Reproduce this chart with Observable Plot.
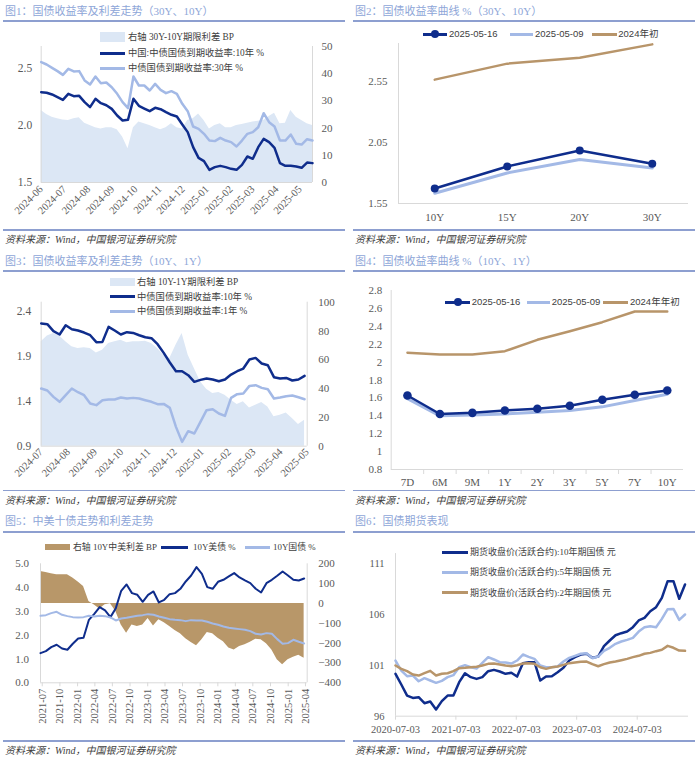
<!DOCTYPE html>
<html><head><meta charset="utf-8">
<script src="https://cdn.jsdelivr.net/npm/d3@7"></script>
<script src="https://cdn.jsdelivr.net/npm/@observablehq/plot@0.6"></script>
<style>
html,body{margin:0;padding:0;background:#fff;}
#root{position:relative;width:700px;height:763px;overflow:hidden;}
</style></head>
<body><div id="root"></div>
<script>
// ---------------- DATA ----------------
// Panel 1: weekly from 2024-06-01
const p1Start = "2024-06-01", p1Step = 7;
const p1Y10 = [2.292,2.287,2.272,2.249,2.225,2.278,2.257,2.260,2.205,2.161,2.234,2.196,2.178,2.146,2.088,2.044,2.050,2.234,2.173,2.149,2.126,2.155,2.143,2.117,2.094,2.079,2.009,1.942,1.810,1.716,1.687,1.611,1.635,1.646,1.635,1.620,1.611,1.655,1.728,1.708,1.810,1.883,1.854,1.804,1.670,1.646,1.646,1.640,1.629,1.675,1.670];
const p1Y30 = [2.556,2.535,2.506,2.477,2.444,2.497,2.474,2.477,2.395,2.360,2.430,2.371,2.377,2.336,2.278,2.205,2.152,2.430,2.351,2.351,2.307,2.365,2.313,2.284,2.301,2.278,2.190,2.126,1.991,1.971,1.927,1.868,1.863,1.892,1.868,1.854,1.816,1.868,1.927,1.942,1.985,2.108,2.029,1.991,1.868,1.868,1.921,1.839,1.833,1.880,1.868];
const p1Spread = [26.5,25.0,24.0,23.4,23.0,22.8,23.4,23.8,21.8,21.0,20.1,19.7,20.1,20.1,19.4,16.7,12.4,20.1,22.2,21.6,21.0,20.1,19.4,20.1,21.6,20.1,19.7,22.8,23.4,25.2,22.8,19.7,21.0,21.6,20.1,20.1,21.0,21.3,21.8,22.2,22.5,22.8,24.3,25.5,21.6,21.8,26.5,24.0,22.8,21.6,21.0];
const p1Domain = ["2024-06-01","2025-05-17"];
const p1XTicks = ["2024-06","2024-07","2024-08","2024-09","2024-10","2024-11","2024-12","2025-01","2025-02","2025-03","2025-04","2025-05"];
const p1LeftTicks = [1.5,2.0,2.5];
const p1RightTicks = [0,10,20,30,40,50];

// Panel 2: curve
const p2Cats = ["10Y","15Y","20Y","30Y"];
const p2A = [1.673,1.853,1.984,1.875];   // 2025-05-16
const p2B = [1.634,1.800,1.910,1.840];   // 2025-05-09
const p2C = [2.564,2.695,2.744,2.853];   // 2024年初
const p2YTicks = [1.55,2.05,2.55];

// Panel 3: weekly from 2024-07-01
const p3Start = "2024-07-01", p3Step = 7;
const p3Y10 = [2.263,2.256,2.178,2.141,2.244,2.200,2.185,2.163,2.133,2.056,2.059,2.226,2.185,2.141,2.167,2.159,2.133,2.111,2.100,2.033,1.937,1.830,1.733,1.733,1.689,1.615,1.637,1.652,1.641,1.622,1.641,1.696,1.733,1.763,1.863,1.881,1.819,1.800,1.667,1.652,1.659,1.630,1.641,1.681];
const p3Y1 = [1.541,1.519,1.448,1.393,1.467,1.541,1.500,1.467,1.374,1.356,1.411,1.419,1.419,1.441,1.430,1.437,1.430,1.411,1.393,1.367,1.370,1.326,1.115,0.948,1.067,1.041,1.170,1.300,1.311,1.263,1.237,1.437,1.478,1.485,1.570,1.578,1.548,1.533,1.430,1.441,1.456,1.463,1.444,1.422];
const p3Spread = [72.5,76.6,78.2,76.6,72.5,69.0,67.8,68.3,67.8,64.8,66.7,71.3,72.5,73.6,71.8,72.5,72.5,72.9,71.3,67.8,63.2,60.9,70.1,78.2,63.2,53.9,44.7,39.6,36.6,37.3,35.4,31.9,28.9,30.8,26.6,28.5,30.3,27.3,20.4,21.5,23.1,19.2,15.0,18.1];
const p3Domain = ["2024-07-01","2025-05-01"];
const p3XTicks = ["2024-07","2024-08","2024-09","2024-10","2024-11","2024-12","2025-01","2025-02","2025-03","2025-04","2025-05"];
const p3LeftTicks = [0.9,1.4,1.9,2.4];
const p3RightTicks = [0,20,40,60,80,100];

// Panel 4: curve
const p4Cats = ["7D","6M","9M","1Y","2Y","3Y","5Y","7Y","10Y"];
const p4A = [1.627,1.420,1.433,1.459,1.478,1.512,1.579,1.635,1.683]; // 2025-05-16
const p4B = [1.590,1.400,1.410,1.420,1.440,1.460,1.500,1.570,1.640]; // 2025-05-09
const p4C = [2.104,2.085,2.085,2.122,2.249,2.345,2.446,2.565,2.565]; // 2024年年初
const p4YTicks = [0.8,1.0,1.2,1.4,1.6,1.8,2.0,2.2,2.4,2.6,2.8];

// Panel 5: every 28 days from 2021-06-22
const p5Start = "2021-06-22", p5Step = 28;
const p5US = [1.246,1.331,1.499,1.597,1.443,1.387,1.639,1.863,1.891,2.647,2.899,3.179,3.039,2.759,3.137,3.866,4.132,3.768,3.697,3.403,3.697,3.838,3.375,3.487,3.725,3.768,3.950,4.258,4.510,4.860,4.580,4.020,3.950,4.244,4.328,4.468,4.608,4.426,4.300,4.188,3.950,3.796,4.188,4.328,4.496,4.678,4.510,4.328,4.300,4.384];
const p5CN = [2.815,2.843,2.927,2.983,2.857,2.801,2.759,2.745,2.759,2.815,2.787,2.815,2.801,2.745,2.619,2.703,2.731,2.773,2.815,2.843,2.885,2.857,2.787,2.731,2.675,2.647,2.633,2.591,2.633,2.619,2.619,2.563,2.493,2.437,2.367,2.311,2.283,2.255,2.227,2.171,2.059,2.031,2.087,2.059,1.835,1.639,1.667,1.807,1.723,1.653];
const p5Spread = [161,156,150,145,145,145,128,108,86,10,-8,-28,-7,-2,-40,-108,-150,-108,-116,-108,-76,-113,-82,-97,-116,-136,-153,-178,-197,-213,-183,-146,-153,-175,-193,-225,-234,-217,-208,-195,-180,-183,-203,-234,-284,-309,-284,-271,-261,-276];
const p5Domain = ["2021-06-22","2025-04-10"];
const p5XTicks = ["2021-07","2021-10","2022-01","2022-04","2022-07","2022-10","2023-01","2023-04","2023-07","2023-10","2024-01","2024-04","2024-07","2024-10","2025-01","2025-04"];
const p5LeftTicks = [0,1,2,3,4,5];
const p5RightTicks = [-400,-300,-200,-100,0,100,200];

// Panel 6: every 35 days from 2020-07-03
const p6Start = "2020-07-03", p6Step = 35;
const p6T10 = [100.17,99.12,98.03,97.80,97.87,97.28,97.44,96.66,97.48,98.03,98.03,99.35,100.23,99.84,99.67,99.84,100.43,100.56,100.40,100.17,100.27,99.90,101.22,101.31,101.31,99.51,99.90,99.94,100.33,100.76,101.48,101.81,102.07,102.14,101.74,101.87,102.89,103.45,103.97,104.17,104.33,104.76,105.42,105.68,106.33,106.73,107.65,109.29,109.29,107.55,108.96];
const p6T5 = [101.48,100.49,99.94,100.00,99.44,99.74,99.51,99.28,99.48,99.84,100.04,100.82,101.02,100.82,100.69,101.25,101.81,101.58,101.31,101.28,101.18,101.48,102.07,101.84,101.64,100.99,100.82,100.82,100.89,101.38,101.74,101.94,102.14,102.20,101.71,101.87,102.43,102.73,103.12,103.35,103.51,103.71,104.33,104.76,104.86,104.76,105.58,106.53,106.56,105.48,106.01];
const p6T2 = [100.99,100.66,100.43,100.10,100.00,100.23,100.46,100.00,100.17,100.23,100.43,100.72,100.76,100.82,100.86,100.99,101.15,101.18,101.09,100.99,100.92,101.02,101.18,101.22,101.15,100.82,100.66,100.82,100.89,101.05,101.22,101.28,101.35,101.38,101.12,100.92,101.12,101.28,101.38,101.51,101.64,101.81,101.94,102.14,102.23,102.40,102.53,102.92,102.73,102.46,102.43];
const p6Domain = ["2020-07-03","2025-05-09"];
const p6XTicks = ["2020-07-03","2021-07-03","2022-07-03","2023-07-03","2024-07-03"];
const p6YTicks = [96,101,106,111];

// Texts
const titles = ["图1：国债收益率及利差走势（30Y、10Y）","图2：国债收益率曲线 %（30Y、10Y）","图3：国债收益率及利差走势（10Y、1Y）","图4：国债收益率曲线 %（10Y、1Y）","图5：中美十债走势和利差走势","图6：国债期货表现"];
const sourceText = "资料来源：Wind，中国银河证券研究院";

// ---------------- STYLE / HELPERS ----------------
const SERIF = '"Liberation Serif","Noto Sans CJK SC",serif';
const SANS = '"Liberation Sans","Noto Sans CJK SC",sans-serif';
const C = {navy:"#0F2D8C", light:"#A3B9E6", area:"#DCE7F5", tan:"#B8956A", tanArea:"#B89769", grid:"#D9D9D9", text:"#595959", title:"#8EA6D8", rule:"#8D9FD0"};
const root = document.getElementById("root");
const D = s => new Date(s);
const dayAdd = (s, n) => new Date(+new Date(s) + n * 864e5);
function put(node, left, top){ node.style.position="absolute"; node.style.left=left+"px"; node.style.top=top+"px"; root.appendChild(node); return node; }
function div(css, text){ const e=document.createElement("div"); e.style.cssText=css; if(text!=null) e.textContent=text; return e; }
const sty = (fs) => ({fontFamily: SERIF, fontSize: fs+"px", color: C.text, background: "transparent", overflow: "visible"});

// frame texts
const panelX = [0,350,0,350,0,350];
const titleY = [11,11,261,261,521,521];
const ruleTopY = [21,21,271,271,531.5,531.5];
const ruleBotY = [230,230,490.5,490.5,741,741];
const srcY = [240,240,500.5,500.5,750.5,750.5];
titles.forEach((t,k)=>{
  const x = panelX[k];
  put(div(`font:11px ${SERIF};color:${C.title};white-space:nowrap;line-height:14px`, t), x+5, titleY[k]-7);
  put(div(`width:342px;height:2px;background:${C.rule}`), x+3, ruleTopY[k]-1);
  put(div(`width:342px;height:1.5px;background:${C.rule}`), x+3, ruleBotY[k]-0.75);
  put(div(`font:italic 10px ${SERIF};color:#404040;white-space:nowrap;line-height:14px`, sourceText), x+5, srcY[k]-7);
});

function legend(items, size, font){
  for(const it of items){
    const h = it.kind==="rect" ? (it.h||8) : 3;
    put(div(`width:${it.x2-it.x1}px;height:${h}px;background:${it.color}`), it.x1, it.y-h/2);
    if(it.dot) put(div(`width:8px;height:8px;border-radius:50%;background:${it.color}`), (it.x1+it.x2)/2-4, it.y-4);
    put(div(`font:${size}px ${font||SERIF};color:#404040;white-space:nowrap;line-height:14px`, it.text), it.tx, it.y-7);
  }
}

// ---------------- PANEL 1 ----------------
{
  const rows = p1Y10.map((v,i)=>({date: dayAdd(p1Start, i*p1Step), y10: v, y30: p1Y30[i], spread: p1Spread[i]}));
  const box = {width:350, height:200, marginLeft:40.7, marginRight:38, marginTop:16, marginBottom:48};
  const xs = {type:"utc", domain:p1Domain.map(D), label:null};
  put(Plot.plot({...box, style: sty(11), x: xs, y:{domain:[0,50], label:null}, marks:[
    Plot.areaY(rows, {x:"date", y:"spread", fill:C.area}),
    Plot.ruleX(p1Domain.map(D), {stroke:C.grid}),
    Plot.ruleY([0], {stroke:C.grid}),
    Plot.axisY(p1RightTicks, {anchor:"right", tickSize:0, tickPadding:9, label:null}),
    Plot.axisX(p1XTicks.map(D), {tickRotate:-45, tickSize:0, tickPadding:5, fontSize:10.5, tickFormat:d3.utcFormat("%Y-%m"), label:null})
  ]}), 0, 30);
  put(Plot.plot({...box, style: sty(11.5), x:{...xs, axis:null}, y:{domain:[1.5,2.693], label:null}, marks:[
    Plot.axisY(p1LeftTicks, {tickSize:0, tickPadding:9, tickFormat:d3.format(".1f"), label:null}),
    Plot.lineY(rows, {x:"date", y:"y10", stroke:C.navy, strokeWidth:2.5}),
    Plot.lineY(rows, {x:"date", y:"y30", stroke:C.light, strokeWidth:2.5})
  ]}), 0, 30);
  legend([
    {kind:"rect", x1:100, x2:125, y:37, h:10, color:C.area, tx:128, text:"右轴 30Y-10Y期限利差 BP"},
    {kind:"line", x1:100, x2:125, y:53, color:C.navy, tx:128, text:"中国:中债国债到期收益率:10年 %"},
    {kind:"line", x1:100, x2:125, y:68, color:C.light, tx:128, text:"中债国债到期收益率:30年 %"}
  ], 9.3);
}

// ---------------- PANEL 2 ----------------
{
  const rows = p2Cats.map((c,i)=>({i, a:p2A[i], b:p2B[i], c:p2C[i]}));
  put(Plot.plot({width:350, height:200, marginLeft:48, marginRight:12, marginTop:13, marginBottom:27, style: sty(11),
    x:{domain:[-0.5, p2Cats.length-0.5], label:null}, y:{domain:[1.55,2.86], label:null}, marks:[
    Plot.ruleX([-0.5], {stroke:C.grid}),
    Plot.ruleY([1.55], {stroke:C.grid}),
    Plot.axisY(p2YTicks, {tickSize:0, tickPadding:11, tickFormat:d3.format(".2f"), label:null}),
    Plot.axisX(p2Cats.map((_,i)=>i), {tickSize:0, tickPadding:10, tickFormat:i=>p2Cats[i], label:null}),
    Plot.lineY(rows, {x:"i", y:"c", stroke:C.tan, strokeWidth:2.5}),
    Plot.lineY(rows, {x:"i", y:"b", stroke:C.light, strokeWidth:3}),
    Plot.lineY(rows, {x:"i", y:"a", stroke:C.navy, strokeWidth:2.5}),
    Plot.dot(rows, {x:"i", y:"a", r:4, fill:C.navy})
  ]}), 350, 30);
  legend([
    {kind:"line", x1:422.7, x2:446.7, y:34, color:C.navy, dot:true, tx:449, text:"2025-05-16"},
    {kind:"line", x1:510, x2:533.3, y:34, color:C.light, tx:535, text:"2025-05-09"},
    {kind:"line", x1:591.7, x2:616.7, y:34, color:C.tan, tx:618.3, text:"2024年初"}
  ], 9.5, SANS);
}

// ---------------- PANEL 3 ----------------
{
  const rows = p3Y10.map((v,i)=>({date: dayAdd(p3Start, i*p3Step), y10: v, y1: p3Y1[i], spread: p3Spread[i]}));
  const box = {width:350, height:200, marginLeft:40.7, marginRight:43.3, marginTop:11.7, marginBottom:44.3};
  const xs = {type:"utc", domain:p3Domain.map(D), label:null};
  put(Plot.plot({...box, style: sty(11), x: xs, y:{domain:[0,100], label:null}, marks:[
    Plot.areaY(rows, {x:"date", y:"spread", fill:C.area}),
    Plot.ruleX(p3Domain.map(D), {stroke:C.grid}),
    Plot.ruleY([0], {stroke:C.grid}),
    Plot.axisY(p3RightTicks, {anchor:"right", tickSize:0, tickPadding:11, label:null}),
    Plot.axisX(p3XTicks.map(D), {tickRotate:-45, tickSize:0, tickPadding:4, fontSize:10.5, tickFormat:d3.utcFormat("%Y-%m"), label:null})
  ]}), 0, 290);
  put(Plot.plot({...box, style: sty(11.5), x:{...xs, axis:null}, y:{domain:[0.9,2.5], label:null}, marks:[
    Plot.axisY(p3LeftTicks, {tickSize:0, tickPadding:10, tickFormat:d3.format(".1f"), label:null}),
    Plot.lineY(rows, {x:"date", y:"y10", stroke:C.navy, strokeWidth:2.5}),
    Plot.lineY(rows, {x:"date", y:"y1", stroke:C.light, strokeWidth:2.5})
  ]}), 0, 290);
  legend([
    {kind:"rect", x1:110, x2:135, y:282, h:8, color:C.area, tx:137, text:"右轴 10Y-1Y期限利差 BP"},
    {kind:"line", x1:110, x2:135, y:296.7, color:C.navy, tx:137, text:"中债国债到期收益率:10年 %"},
    {kind:"line", x1:110, x2:135, y:311, color:C.light, tx:137, text:"中债国债到期收益率:1年 %"}
  ], 9.3);
}

// ---------------- PANEL 4 ----------------
{
  const rows = p4Cats.map((c,i)=>({i, a:p4A[i], b:p4B[i], c:p4C[i]}));
  const bounds = p4Cats.slice(1).map((_,i)=>i+0.5);
  put(Plot.plot({width:350, height:210, marginLeft:40.7, marginRight:17, marginTop:10, marginBottom:21, style: sty(11),
    x:{domain:[-0.5, p4Cats.length-0.5], label:null}, y:{domain:[0.8,2.8], label:null}, marks:[
    Plot.ruleX([-0.5], {stroke:C.grid}),
    Plot.ruleY([0.8], {stroke:C.grid}),
    Plot.axisY(p4YTicks, {tickSize:0, tickPadding:9, tickFormat:d3.format("~g"), label:null}),
    Plot.axisX(bounds, {tickSize:5, stroke:C.grid, tickFormat:()=>"", label:null}),
    Plot.axisX(p4Cats.map((_,i)=>i), {tickSize:0, tickPadding:9, tickFormat:i=>p4Cats[i], label:null}),
    Plot.lineY(rows, {x:"i", y:"c", stroke:C.tan, strokeWidth:2.5}),
    Plot.lineY(rows, {x:"i", y:"b", stroke:C.light, strokeWidth:3}),
    Plot.lineY(rows, {x:"i", y:"a", stroke:C.navy, strokeWidth:2.5}),
    Plot.dot(rows, {x:"i", y:"a", r:4.3, fill:C.navy})
  ]}), 350, 280);
  legend([
    {kind:"line", x1:445, x2:470, y:302, color:C.navy, dot:true, tx:471.7, text:"2025-05-16"},
    {kind:"line", x1:527, x2:550, y:302, color:C.light, tx:551.7, text:"2025-05-09"},
    {kind:"line", x1:603.3, x2:628.3, y:302, color:C.tan, tx:630, text:"2024年年初"}
  ], 9.5, SANS);
}

// ---------------- PANEL 5 ----------------
{
  const rows = p5US.map((v,i)=>({date: dayAdd(p5Start, i*p5Step), us: v, cn: p5CN[i], spread: p5Spread[i]}));
  const box = {width:350, height:190, marginLeft:40, marginRight:43.3, marginTop:13.3, marginBottom:57.7};
  const xs = {type:"utc", domain:p5Domain.map(D), label:null};
  put(Plot.plot({...box, style: sty(11), x: xs, y:{domain:[-400,200], label:null}, marks:[
    Plot.areaY(rows, {x:"date", y1:0, y2:"spread", fill:C.tanArea}),
    Plot.ruleX(p5Domain.map(D), {stroke:C.grid}),
    Plot.ruleY([-400], {stroke:C.grid}),
    Plot.axisY(p5RightTicks, {anchor:"right", tickSize:0, tickPadding:11, label:null}),
    Plot.axisX(p5XTicks.map(D), {tickRotate:-90, tickSize:4, tickPadding:2, stroke:C.grid, fill:C.text, fontSize:10.5, tickFormat:d3.utcFormat("%Y-%m"), label:null})
  ]}), 0, 550);
  put(Plot.plot({...box, style: sty(11), x:{...xs, axis:null}, y:{domain:[0,5], label:null}, marks:[
    Plot.axisY(p5LeftTicks, {tickSize:0, tickPadding:11.5, tickFormat:d3.format(".1f"), label:null}),
    Plot.lineY(rows, {x:"date", y:"us", stroke:C.navy, strokeWidth:2}),
    Plot.lineY(rows, {x:"date", y:"cn", stroke:C.light, strokeWidth:2})
  ]}), 0, 550);
  legend([
    {kind:"rect", x1:45, x2:70, y:547, h:6, color:C.tanArea, tx:73, text:"右轴 10Y中美利差 BP"},
    {kind:"line", x1:160.7, x2:188, y:547, color:C.navy, tx:193, text:"10Y美债 %"},
    {kind:"line", x1:245, x2:270, y:547, color:C.light, tx:273, text:"10Y国债 %"}
  ], 8.9);
}

// ---------------- PANEL 6 ----------------
{
  const rows = p6T10.map((v,i)=>({date: dayAdd(p6Start, i*p6Step), t10: v, t5: p6T5[i], t2: p6T2[i]}));
  put(Plot.plot({width:350, height:195, marginLeft:45, marginRight:12, marginTop:8.1, marginBottom:24.3, style: sty(10.5),
    x:{type:"utc", domain:p6Domain.map(D), label:null}, y:{domain:[96,112], label:null}, marks:[
    Plot.ruleX([D(p6Domain[0])], {stroke:C.grid}),
    Plot.ruleY([96], {stroke:C.grid}),
    Plot.axisY(p6YTicks, {tickSize:0, tickPadding:11, label:null}),
    Plot.axisX(p6XTicks.map(D), {tickSize:4, tickPadding:5, stroke:C.grid, fill:C.text, tickFormat:d3.utcFormat("%Y-%m-%d"), label:null}),
    Plot.lineY(rows, {x:"date", y:"t10", stroke:C.navy, strokeWidth:2.5}),
    Plot.lineY(rows, {x:"date", y:"t5", stroke:C.light, strokeWidth:2.5}),
    Plot.lineY(rows, {x:"date", y:"t2", stroke:C.tan, strokeWidth:2.5})
  ]}), 350, 545);
  legend([
    {kind:"line", x1:441.7, x2:468, y:552.3, color:C.navy, tx:470, text:"期货收盘价(活跃合约):10年期国债 元"},
    {kind:"line", x1:441.7, x2:468, y:572.3, color:C.light, tx:470, text:"期货收盘价(活跃合约):5年期国债 元"},
    {kind:"line", x1:441.7, x2:468, y:592.7, color:C.tan, tx:470, text:"期货收盘价(活跃合约):2年期国债 元"}
  ], 9);
}
</script>
</body></html>
